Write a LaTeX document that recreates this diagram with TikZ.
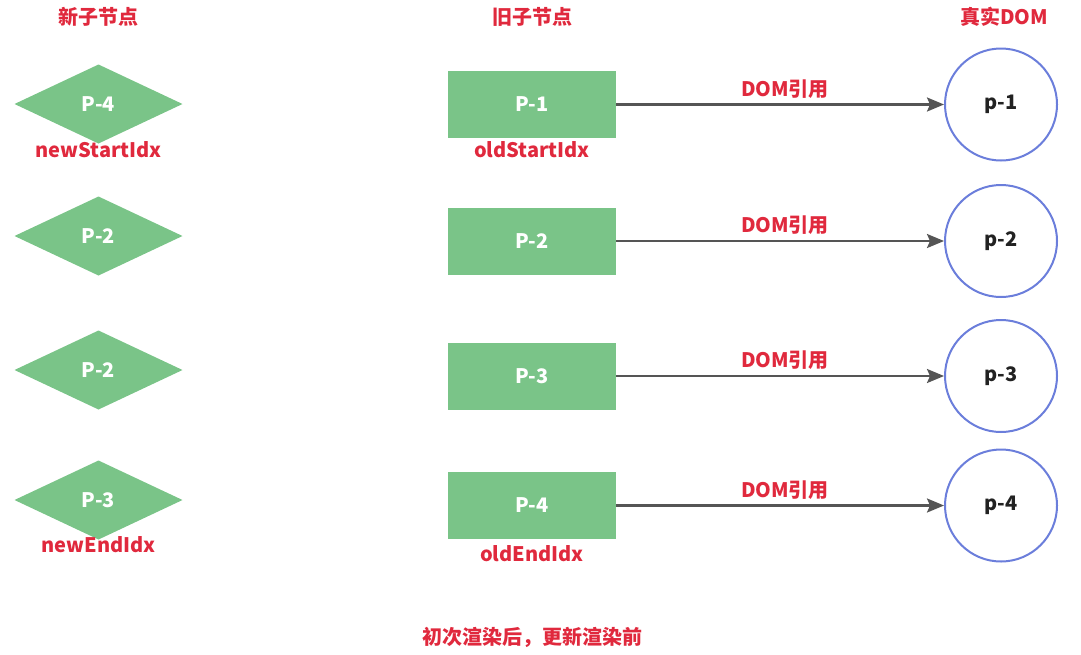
\documentclass[tikz,border=0pt]{standalone}
\usepackage{fontspec}
\setmainfont{Noto Sans CJK SC}
\usetikzlibrary{shapes.geometric,arrows.meta,positioning}
\definecolor{vgreen}{HTML}{7AC488}
\definecolor{vred}{HTML}{E0293D}
\definecolor{vblue}{HTML}{6B7EDB}
\definecolor{vgray}{HTML}{555555}
\definecolor{vtext}{HTML}{222222}
\tikzset{
  txt/.style={font=\fontsize{20}{24}\selectfont\bfseries},
  newnode/.style={txt,diamond,fill=vgreen,text=white,minimum width=168pt,minimum height=79pt,inner sep=0pt,outer sep=0pt},
  oldnode/.style={txt,rectangle,fill=vgreen,text=white,minimum width=168pt,minimum height=67pt,inner sep=0pt,outer sep=0pt},
  domnode/.style={txt,circle,draw=vblue,line width=2pt,text=vtext,minimum size=112pt,inner sep=0pt,outer sep=1pt},
  title/.style={txt,text=vred,inner sep=0pt},
  idx/.style={txt,text=vred,inner sep=0pt},
  ref/.style={draw=vgray,line width=2.3pt,-{Stealth[length=17pt,width=14pt,inset=3pt]}}
}
\begin{document}
\begin{tikzpicture}[x=1pt,y=-1pt]
\useasboundingbox (0,0) rectangle (1081,654);
% Column titles
\node[title] (tnew) at (98,17) {新子节点};
\node[title] (told) at (532,17) {旧子节点};
\node[title] (tdom) at (1004,17) {真实DOM};
% New children
\node[newnode] (newa) at (98.5,104) {P-4};
\node[newnode] (newb) at (98.5,236) {P-2};
\node[newnode] (newc) at (98.5,370) {P-2};
\node[newnode] (newd) at (98.5,500) {P-3};
% Old children
\node[oldnode] (olda) at (532,104.5) {P-1};
\node[oldnode] (oldb) at (532,241) {P-2};
\node[oldnode] (oldc) at (532,376) {P-3};
\node[oldnode] (oldd) at (532,505.5) {P-4};
% Real DOM
\node[domnode] (doma) at (1001,104.5) {p-1};
\node[domnode] (domb) at (1001,241) {p-2};
\node[domnode] (domc) at (1001,376) {p-3};
\node[domnode] (domd) at (1001,505.5) {p-4};
% Index labels
\node[idx] (nsi) at ([yshift=-6pt]newa.south) {newStartIdx};
\node[idx] (nei) at ([yshift=-5pt]newd.south) {newEndIdx};
\node[idx] (osi) at ([yshift=-12pt]olda.south) {oldStartIdx};
\node[idx] (oei) at ([yshift=-15pt]oldd.south) {oldEndIdx};
% References
\foreach \o/\d in {olda/doma,oldb/domb,oldc/domc,oldd/domd} {
  \draw[ref] (\o) -- (\d) node[midway,above=5pt,idx,xshift=5pt] {DOM引用};
}
% Caption
\node[title] (cap) at (532,637) {初次渲染后，更新渲染前};
\end{tikzpicture}
\end{document}
